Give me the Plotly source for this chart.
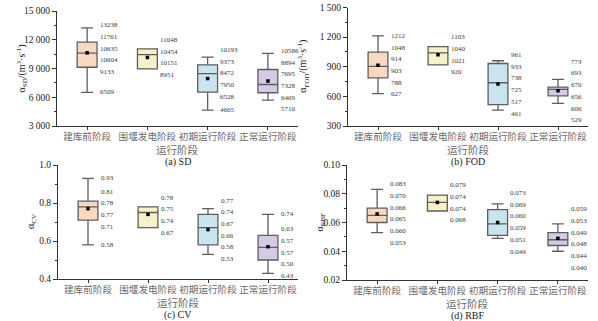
import plotly.graph_objects as go

categories = ['建库前阶段', '围堰发电阶段', '初期运行阶段', '正常运行阶段']
fills = ['#F9D8C0', '#F7F2C6', '#C8E4EF', '#D5C9E6']

sd_min = [6509, 8951, 4665, 5710]
sd_q1 = [9133, 8951, 6528, 6469]
sd_median = [10604, 10454, 8472, 7328]
sd_mean = [10635, 10151, 7950, 7695]
sd_q3 = [11761, 11048, 9373, 8894]
sd_max = [13238, 11048, 10193, 10586]

fod_min = [627, 920, 461, 529]
fod_q1 = [788, 920, 517, 606]
fod_median = [903, 1040, 738, 670]
fod_mean = [914, 1021, 725, 656]
fod_q3 = [1048, 1103, 933, 693]
fod_max = [1212, 1103, 961, 773]

cv_min = [0.58, 0.67, 0.53, 0.43]
cv_q1 = [0.71, 0.67, 0.58, 0.50]
cv_median = [0.78, 0.75, 0.67, 0.566]
cv_mean = [0.77, 0.74, 0.66, 0.57]
cv_q3 = [0.81, 0.78, 0.74, 0.63]
cv_max = [0.93, 0.78, 0.77, 0.74]

rbf_min = [0.053, 0.068, 0.049, 0.040]
rbf_q1 = [0.060, 0.068, 0.051, 0.044]
rbf_median = [0.065, 0.074, 0.059, 0.048]
rbf_mean = [0.066, 0.074, 0.060, 0.049]
rbf_q3 = [0.070, 0.079, 0.069, 0.053]
rbf_max = [0.083, 0.079, 0.073, 0.059]

W, H = 598, 321
SERIF = 'Liberation Serif'
CJK = 'Noto Sans CJK SC'

panels = [
    dict(stats=(sd_min, sd_q1, sd_median, sd_mean, sd_q3, sd_max), fmt='{:.0f}',
         yr=[3000, 15000], dtick=3000, tf=',d', px=(57, 298, 11, 126), cap='(a) SD',
         title='α<sub>SD</sub>/(m<sup>3</sup>·s<sup>-1</sup>)', tx=22),
    dict(stats=(fod_min, fod_q1, fod_median, fod_mean, fod_q3, fod_max), fmt='{:.0f}',
         yr=[300, 1500], dtick=300, tf=',d', px=(348, 588, 7.5, 126), cap='(b) FOD',
         title='α<sub>FOD</sub>/(m<sup>3</sup>·s<sup>-1</sup>)', tx=303),
    dict(stats=(cv_min, cv_q1, cv_median, cv_mean, cv_q3, cv_max), fmt='{:.2f}',
         yr=[0.4, 1.0], dtick=0.2, tf='.1f', px=(58, 298, 165, 279), cap='(c) CV',
         title='α<sub>CV</sub>', tx=31),
    dict(stats=(rbf_min, rbf_q1, rbf_median, rbf_mean, rbf_q3, rbf_max), fmt='{:.3f}',
         yr=[0.02, 0.10], dtick=0.02, tf='.2f', px=(347, 588, 165, 280), cap='(d) RBF',
         title='α<sub>RBF</sub>', tx=320),
]

fig = go.Figure()
annotations = []
layout = {}

def repel(vals, gap):
    p = list(vals)
    for _ in range(800):
        for i in range(len(p) - 1):
            d = p[i] - p[i + 1]
            if d < gap:
                s = (gap - d) / 2
                p[i] += s
                p[i + 1] -= s
    return p

for k, pn in enumerate(panels):
    sfx = '' if k == 0 else str(k + 1)
    xa, ya = 'x' + sfx, 'y' + sfx
    mn, q1, med, mean, q3, mx = pn['stats']
    x0, x1, ytop, ybot = pn['px']
    for i in range(4):
        fig.add_trace(go.Box(
            x=[i], q1=[q1[i]], median=[med[i]], q3=[q3[i]],
            lowerfence=[mn[i]], upperfence=[mx[i]],
            fillcolor=fills[i], line=dict(color='#5e5e5e', width=1.3),
            width=0.33, whiskerwidth=0.6, boxpoints=False,
            showlegend=False, hoverinfo='skip', xaxis=xa, yaxis=ya))
    fig.add_trace(go.Scatter(
        x=list(range(4)), y=mean, mode='markers',
        marker=dict(symbol='square', size=3.5, color='black'),
        showlegend=False, hoverinfo='skip', xaxis=xa, yaxis=ya))

    rng = pn['yr'][1] - pn['yr'][0]
    gap = 11.7 * rng / (ybot - ytop)
    for i in range(4):
        vals = [mx[i]]
        if q3[i] != mx[i]:
            vals.append(q3[i])
        vals += [med[i], mean[i]]
        if q1[i] != mn[i]:
            vals.append(q1[i])
        vals.append(mn[i])
        vals = sorted(vals, reverse=True)
        pos = repel(vals, gap)
        for v, p in zip(vals, pos):
            annotations.append(dict(
                x=i + 0.18, y=p, xref=xa, yref=ya, text=pn['fmt'].format(v),
                showarrow=False, xanchor='left', yanchor='middle',
                font=dict(family=SERIF, size=7, color='#3a3a3a')))

    dom_x = [x0 / W, x1 / W]
    dom_y = [(H - ybot) / H, (H - ytop) / H]
    layout['xaxis' + sfx] = dict(
        domain=dom_x, anchor=ya, range=[-0.5, 3.5], tickvals=list(range(4)),
        ticktext=categories, tickangle=0, showline=True, linecolor='#333', linewidth=1,
        ticks='outside', ticklen=3, tickcolor='#333', showgrid=False, zeroline=False,
        automargin=False, ticklabelstandoff=-2,
        tickfont=dict(family=CJK, size=9.6, color='#6a6a6a'), fixedrange=True)
    layout['yaxis' + sfx] = dict(
        domain=dom_y, anchor=xa, range=pn['yr'], dtick=pn['dtick'], tick0=pn['yr'][0],
        tickformat=pn['tf'], showline=True, linecolor='#333', linewidth=1,
        ticks='outside', ticklen=4, tickcolor='#333', showgrid=False, zeroline=False,
        automargin=False,
        minor=dict(ticks='outside', ticklen=2, dtick=pn['dtick'] / 2, tickcolor='#333'),
        tickfont=dict(family=SERIF, size=9.5, color='#222'), fixedrange=True)

    cx = (x0 + x1) / 2 / W
    annotations.append(dict(
        x=cx, y=(H - (ybot + 23)) / H, xref='paper', yref='paper', text='运行阶段',
        showarrow=False, xanchor='center', yanchor='middle',
        font=dict(family=CJK, size=10.5, color='#6a6a6a')))
    annotations.append(dict(
        x=cx, y=(H - (ybot + 35.5)) / H, xref='paper', yref='paper', text=pn['cap'],
        showarrow=False, xanchor='center', yanchor='middle',
        font=dict(family=SERIF, size=10, color='#222')))
    annotations.append(dict(
        x=pn['tx'] / W, y=(H - (ytop + ybot) / 2) / H, xref='paper', yref='paper',
        text=pn['title'], textangle=-90, showarrow=False, xanchor='center',
        yanchor='middle', font=dict(family=SERIF, size=10, color='#222')))

fig.update_layout(
    width=W, height=H, margin=dict(l=0, r=0, t=0, b=0, autoexpand=False),
    paper_bgcolor='white', plot_bgcolor='white', separators='. ',
    annotations=annotations, **layout)

fig.write_html('out.html', config={'displayModeBar': False, 'staticPlot': True},
               post_script="document.body.style.margin='0';document.body.style.padding='0';document.body.style.overflow='hidden';")
